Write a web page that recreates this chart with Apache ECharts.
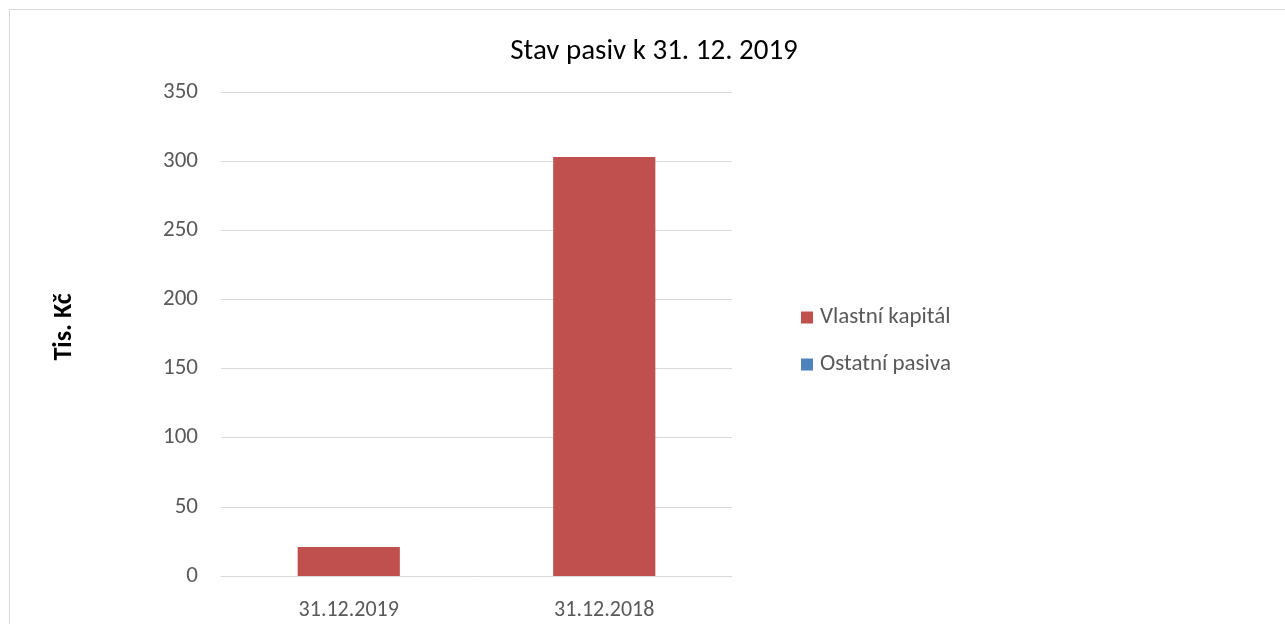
<!DOCTYPE html>
<html><head><meta charset="utf-8">
<script src="https://cdn.jsdelivr.net/npm/echarts@6/dist/echarts.min.js"></script>
<style>html,body{margin:0;padding:0;background:#fff}#c{width:1285px;height:624px}</style>
</head><body><div id="c"></div>
<script>
const categories = ['31.12.2019', '31.12.2018'];
const vlastniKapital = [21, 303];
const ostatniPasiva = [0, 0];
const yTicks = [0, 50, 100, 150, 200, 250, 300, 350];

const font = "Calibri, Carlito, 'Open Sans', sans-serif";
const chart = echarts.init(document.getElementById('c'));
chart.setOption({
  animation: false,
  textStyle: { fontFamily: font },
  graphic: [{ type: 'rect', shape: { x: 9.5, y: 9.5, width: 1400, height: 800 },
    style: { fill: 'none', stroke: '#d9d9d9', lineWidth: 1 }, silent: true }],
  title: { text: 'Stav pasiv k 31. 12. 2019', left: 649, textAlign: 'center', top: 32,
    textStyle: { fontFamily: font, fontSize: 29, fontWeight: 'normal', color: '#000' } },
  legend: { orient: 'vertical', left: 796, top: 301, itemGap: 24, itemWidth: 12, itemHeight: 12,
    icon: 'rect', textStyle: { fontFamily: font, fontSize: 23, color: '#595959', padding: [0, 0, 0, 2] },
    data: ['Vlastní kapitál', 'Ostatní pasiva'] },
  grid: { left: 221, right: 553, top: 92, bottom: 48 },
  xAxis: { type: 'category', data: categories,
    axisLine: { lineStyle: { color: '#d9d9d9' } }, axisTick: { show: false },
    axisLabel: { fontFamily: font, fontSize: 22, color: '#595959', margin: 23 } },
  yAxis: { type: 'value', min: yTicks[0], max: yTicks[yTicks.length - 1], interval: 50,
    name: 'Tis. Kč', nameLocation: 'middle', nameGap: 144, nameRotate: 90,
    nameTextStyle: { fontFamily: font, fontSize: 26, fontWeight: 'bold', color: '#000', padding: [0, 0, 0, 14] },
    axisLine: { show: false }, axisTick: { show: false },
    splitLine: { lineStyle: { color: '#d9d9d9' } },
    axisLabel: { fontFamily: font, fontSize: 23, color: '#595959', margin: 23 } },
  series: [
    { name: 'Vlastní kapitál', type: 'bar', stack: 's', data: vlastniKapital, barWidth: '40%',
      itemStyle: { color: '#C0504D' } },
    { name: 'Ostatní pasiva', type: 'bar', stack: 's', data: ostatniPasiva, barWidth: '40%',
      itemStyle: { color: '#4F81BD' } }
  ]
});
</script></body></html>
